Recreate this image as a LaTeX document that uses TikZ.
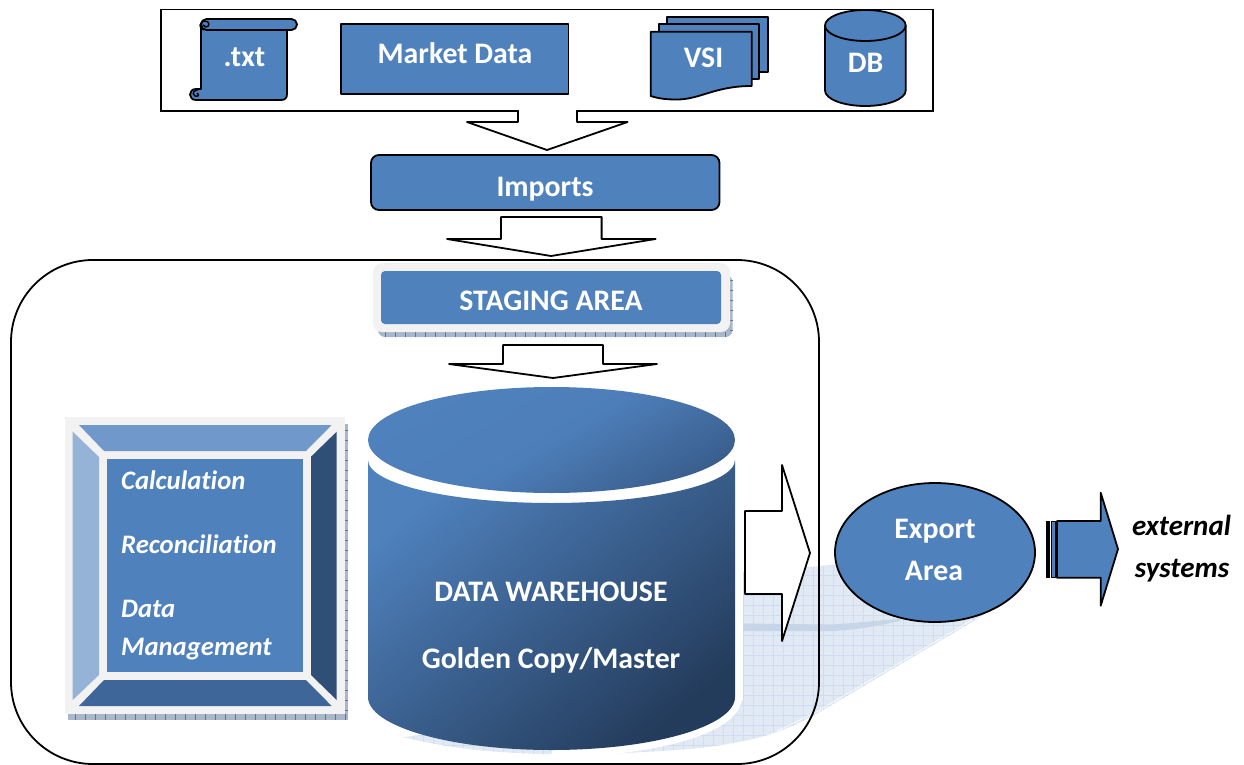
\documentclass[tikz,border=0pt]{standalone}
\usepackage{fontspec}
\setmainfont[Ligatures=NoCommon]{Carlito}
\definecolor{mblue}{HTML}{4F81BD}
\definecolor{dkblue}{HTML}{243C5C}
\definecolor{midblue}{HTML}{3A5F8E}
\definecolor{bevtop}{HTML}{7198CB}
\definecolor{bevleft}{HTML}{95B3D7}
\definecolor{bevright}{HTML}{2F4F76}
\definecolor{bevbot}{HTML}{3F6699}
\definecolor{lightgrey}{HTML}{F2F2F2}
\definecolor{shadefill}{HTML}{E1E9F4}
\definecolor{shadegrid}{HTML}{CFDDF0}
\definecolor{shadeband}{HTML}{C6D5E8}
\definecolor{embossfill}{HTML}{A9B7CB}
\definecolor{embosstick}{HTML}{5F7596}
\tikzset{
  shapeline/.style={draw=black,line width=1.8pt,fill=mblue,line join=round},
  blockarrow/.style={draw=black,line width=1.8pt,fill=white,line join=round},
  whitelabel/.style={text=white,font=\fontsize{29.8}{30}\selectfont\bfseries,anchor=base,inner sep=0pt,yshift=-1.2pt},
  itallabel/.style={text=white,font=\fontsize{26.7}{27}\selectfont\bfseries\itshape,anchor=base west,inner sep=0pt,yshift=-1.2pt},
  extlabel/.style={text=black,font=\fontsize{29}{29}\selectfont\bfseries\itshape,anchor=base,inner sep=0pt,yshift=-1.2pt},
}
\begin{document}
\begin{tikzpicture}[x=1pt,y=-1pt]
\path[use as bounding box] (0,0) rectangle (1244,765);
% cast shadow of the warehouse
\begin{scope}
\clip (403,737) .. controls (470,754) and (560,760) .. (700,748) .. controls (745,742) and (775,737) .. (818,713) -- (972,622) -- (1022,590) -- (1000,565) -- (835,565) -- (743,572) -- (743,700) -- cycle;
\fill[shadefill] (400,560) rectangle (1030,760);
\foreach \gx in {403,413,...,1023} \draw[shadegrid,line width=.5pt] (\gx,560) -- (\gx,760);
\foreach \gy in {565,575,...,755} \draw[shadegrid,line width=.5pt] (400,\gy) -- (1030,\gy);
\fill[shadeband] (743,623.5) -- (830,624.5) .. controls (860,623) and (880,620) .. (900,619) -- (900,621) .. controls (880,625) and (860,630) .. (830,631) -- (743,631) -- cycle;
\end{scope}
\draw[white,line width=.6pt] (777,731) -- (818,711) -- (972,620);
% outer frames
\draw[black,line width=1.8pt] (160.7,9.5) rectangle (933,111);
\draw[black,line width=1.8pt,rounded corners=82pt] (11,260) rectangle (819,764);
% scroll
\path[shapeline] (201,25) -- (201,89) -- (196,89) .. controls (188,89) and (188,100) .. (196,100) -- (281,100) .. controls (285,100) and (287,98) .. (287,94) -- (287,30) -- cycle;
\path[shapeline,rounded corners=5.5pt] (201,19) rectangle (297,30);
\draw[black,line width=1.4pt] (204,30) .. controls (198,29) and (199,21) .. (205,21) .. controls (210,21) and (210,27) .. (206,27) -- (203,25);
\draw[black,line width=1.4pt] (201,89) .. controls (194,90) and (191,93) .. (195,96) .. controls (198,97) and (200,95) .. (197,93);
\node[whitelabel] (txt) at (244.5,65.7) {.txt};
% market data
\path[shapeline] (341,24) rectangle (568.5,94);
\node[whitelabel] (market) at (455,62) {Market Data};
% VSI stack
\path[shapeline] (667.3,17.3) rectangle (768.3,72);
\path[shapeline] (659,24) rectangle (759.3,79);
\path[shapeline] (650.7,31.7) -- (751.7,31.7) -- (751.7,86) .. controls (715,86) and (700,99.5) .. (677,99.5) .. controls (668,99.5) and (660,99) .. (650.7,96) -- cycle;
\node[whitelabel] (vsi) at (703.5,66.7) {VSI};
% DB
\path[shapeline] (825,25.5) -- (825,90.5) .. controls (825,99) and (843,106) .. (865.3,106) .. controls (887.6,106) and (905.7,99) .. (905.7,90.5) -- (905.7,25.5) .. controls (905.7,17) and (887.6,10) .. (865.3,10) .. controls (843,10) and (825,17) .. (825,25.5) -- cycle;
\draw[black,line width=1.8pt] (825,25.5) .. controls (825,34) and (843,41) .. (865.3,41) .. controls (887.6,41) and (905.7,34) .. (905.7,25.5);
\node[whitelabel] (db) at (865.5,71) {DB};
% arrow to imports
\path[blockarrow] (518,111) -- (518,122) -- (467,122) -- (547,150) -- (627.6,122) -- (577,122) -- (577,111);
\draw[white,line width=2pt] (519,111) -- (576,111);
% imports
\path[shapeline,rounded corners=8pt] (371,155) rectangle (719.5,210);
\node[whitelabel] (imports) at (545,195) {Imports};
\path[blockarrow] (501,217) -- (601.6,217) -- (601.6,239) -- (655.6,239) -- (551,256) -- (447,239) -- (501,239) -- cycle;
% staging
\fill[embossfill,rounded corners=7pt] (378,275) rectangle (732.5,337);
\foreach \sx in {385,395,...,725} \draw[embosstick,line width=.5pt] (\sx,332) -- (\sx,337);
\foreach \sy in {280,290,...,330} \draw[embosstick,line width=.5pt] (730,\sy) -- (732.5,\sy);
\fill[lightgrey,rounded corners=9pt] (373,263) rectangle (730,332);
\fill[mblue,rounded corners=4pt] (381,271) rectangle (721,324);
\node[whitelabel] (staging) at (551,309.3) {STAGING AREA};
\path[blockarrow] (503,345) -- (603,345) -- (603,364) -- (657,364) -- (553,378) -- (449,364) -- (503,364) -- cycle;
% bevel
\fill[embossfill] (68,424) rectangle (347.5,720);
\foreach \sx in {75,85,...,345} \draw[embosstick,line width=.5pt] (\sx,714) -- (\sx,720);
\foreach \sy in {430,440,...,710} \draw[embosstick,line width=.5pt] (345,\sy) -- (347.5,\sy);
\fill[lightgrey] (65,417) rectangle (345,714);
\fill[bevtop] (79,425) -- (331.7,425) -- (306,451) -- (104,451) -- cycle;
\fill[bevright] (336.7,431.7) -- (336.7,700) -- (311,675) -- (311,456.7) -- cycle;
\fill[bevbot] (104,680) -- (306,680) -- (331.7,706) -- (79,706) -- cycle;
\fill[bevleft] (72.7,431.7) -- (99,457) -- (99,675) -- (72.7,700) -- cycle;
\fill[mblue] (106.7,459) rectangle (303.3,671.7);
\node[itallabel] (calc) at (121,488) {Calculation};
\node[itallabel] (recon) at (121,552.7) {Reconciliation};
\node[itallabel] (data) at (121,616.7) {Data};
\node[itallabel] (mgmt) at (121,654) {Management};
% warehouse
\draw[white,line width=14pt] (735,470) -- (735,697) .. controls (735,726.3) and (652.8,750) .. (551.5,750);
\shade[top color=mblue,bottom color=dkblue,shading angle=40] (368,460) .. controls (368,483.7) and (450.2,503) .. (551.5,503) .. controls (652.8,503) and (735,483.7) .. (735,460) -- (735,697) .. controls (735,726.3) and (652.8,750) .. (551.5,750) .. controls (450.2,750) and (368,726.3) .. (368,697) -- cycle;
\shade[top color=mblue,bottom color=midblue,middle color=mblue!92!midblue,shading angle=30] (551.5,440) ellipse (183.5 and 53);
\node[whitelabel] (dw) at (551,600.7) {DATA WAREHOUSE};
\node[whitelabel] (golden) at (551,667) {Golden Copy/Master};
% arrow to export
\path[blockarrow] (745,511) -- (782,511) -- (782,465) -- (810,553) -- (782,641) -- (782,594) -- (745,594) -- cycle;
% export
\path[shapeline] (935,552.5) ellipse (100 and 69.5);
\node[whitelabel] (export) at (935,537) {Export};
\node[whitelabel] (area) at (934,579) {Area};
% striped arrow
\path[shapeline] (1057,521) -- (1100.7,521) -- (1100.7,492.7) -- (1118,549) -- (1100.7,605.7) -- (1100.7,577.7) -- (1057,577.7) -- cycle;
\fill[black] (1045.5,521) rectangle (1050,577.7);
\path[shapeline,line width=.8pt] (1051,521) rectangle (1055,577.7);
% external
\node[extlabel] (ext) at (1181.5,534) {external};
\node[extlabel] (sys) at (1182,576) {systems};
\end{tikzpicture}
\end{document}
